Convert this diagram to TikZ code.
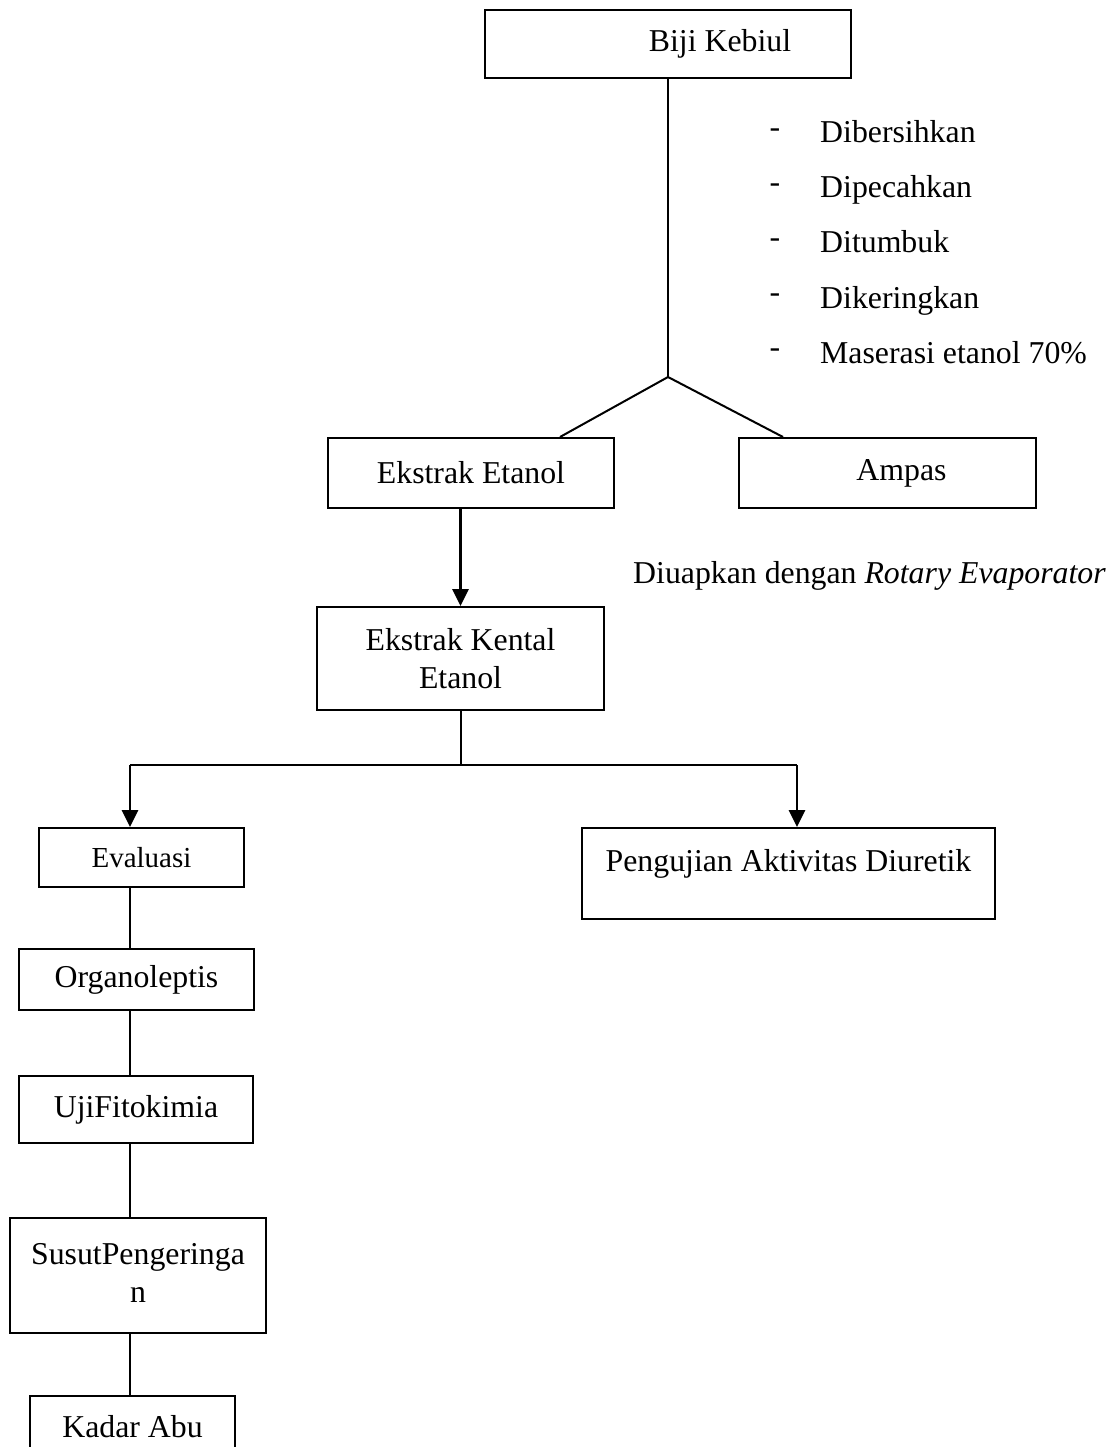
\documentclass[tikz,border=0pt]{standalone}
\usepackage{fontspec}
\setmainfont{Liberation Serif}
\usepackage{tikz}
\usetikzlibrary{arrows.meta,positioning,calc}

\begin{document}
\begin{tikzpicture}[x=1pt, y=-1pt,
  box/.style={rectangle, draw=black, line width=2pt, inner sep=0pt,
    minimum width=#1, align=center, font=\fontsize{31.8}{38}\selectfont},
  txt/.style={inner sep=0pt, font=\fontsize{31.8}{38}\selectfont},
  line/.style={line width=2pt},
  arr/.style={-{Triangle[length=17pt, width=16pt]}, line width=2.8pt}
]
\clip (0,0) rectangle (1113,1447);

% upper part
\node[box=366pt, minimum height=68pt, line width=2.8pt] (biji) at (668,44) {\hspace*{104pt}Biji Kebiul};
\node[box=286pt, minimum height=70pt] (etanol) at (471,473) {Ekstrak Etanol};
\node[box=297pt, minimum height=70pt] (ampas) at (887.5,473) {\hspace*{28pt}Ampas};
\node[box=287pt, minimum height=103pt] (kental) at (460.5,658.5) {Ekstrak Kental\\Etanol};
\coordinate (fork) at (668,377);

\foreach \t [count=\i] in {Dibersihkan, Dipecahkan, Ditumbuk, Dikeringkan, Maserasi etanol 70\%} {
  \node[txt] (dash\i) at (775, 78+55*\i) {-};
  \node[txt, anchor=base west] (step\i) at (820, 88+55*\i) {\t};
}
\node[txt, anchor=base west] (uap) at (633,583) {Diuapkan dengan \textit{Rotary Evaporator}};

\draw[line] (biji.south) -- (fork);
\draw[line] (fork) -- ([xshift=89pt]etanol.north);
\draw[line] (fork) -- ([xshift=-104.5pt]ampas.north);
\draw[arr] (etanol.south -| kental.north) -- (kental.north);

% lower part
\coordinate (bl) at (130,765);
\coordinate (br) at (797,765);
\node[box=205pt, minimum height=59pt, font=\fontsize{29}{35}\selectfont] (eval) at (141.5,857.5) {Evaluasi};
\node[box=413pt, minimum height=91pt] (uji) at (788.5,873.5) {\raisebox{27pt}{Pengujian Aktivitas Diuretik}};
\node[box=235pt, minimum height=61pt] (organo) at (136.5,979.5) {Organoleptis};
\node[box=234pt, minimum height=67pt] (fito) at (136,1109.5) {UjiFitokimia};
\node[box=256pt, minimum height=115pt] (susut) at (138,1275.5) {\raisebox{16pt}{\begin{tabular}{@{}c@{}}SusutPengeringa\\n\end{tabular}}};
\node[box=205pt, minimum height=62pt] (kadar) at (132.5,1427) {Kadar Abu};

\draw[line] (kental.south) -- (kental.south |- bl);
\draw[line] (bl) -- (br);
\draw[arr] (bl) -- (eval.north -| bl);
\draw[arr] (br) -- (uji.north -| br);
\draw[line] (eval.south -| bl) -- (organo.north -| bl);
\draw[line] (organo.south -| bl) -- (fito.north -| bl);
\draw[line] (fito.south -| bl) -- (susut.north -| bl);
\draw[line] (susut.south -| bl) -- (kadar.north -| bl);
\end{tikzpicture}
\end{document}
